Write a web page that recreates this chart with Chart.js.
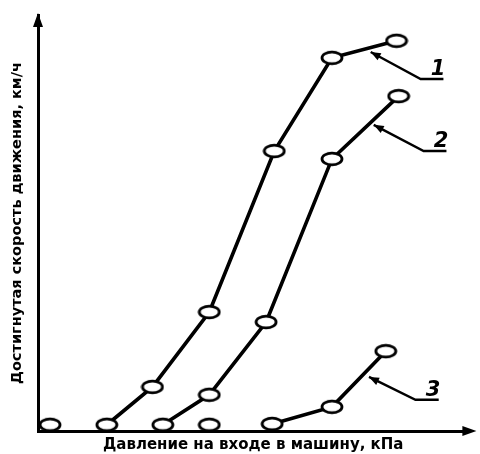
<!DOCTYPE html>
<html>
<head>
<meta charset="utf-8">
<script src="https://cdn.jsdelivr.net/npm/chart.js@4.4.1/dist/chart.umd.min.js"></script>
<style>
  html, body { margin: 0; padding: 0; background: #fff; }
  #wrap { width: 480px; height: 454px; }
</style>
</head>
<body>
<div id="wrap"><canvas id="lineChart"></canvas></div>
<script>
// Данные кривых (условные единицы, оси без делений)
var curve1 = [
    { x: 1.60, y: 0.15 }, { x: 2.66, y: 1.06 }, { x: 3.98, y: 2.86 },
    { x: 5.49, y: 6.73 }, { x: 6.83, y: 8.97 }, { x: 8.33, y: 9.38 }
];
var curve2 = [
    { x: 2.90, y: 0.15 }, { x: 3.98, y: 0.87 }, { x: 5.30, y: 2.62 },
    { x: 6.83, y: 6.54 }, { x: 8.38, y: 8.05 }
];
var curve3 = [
    { x: 5.44, y: 0.17 }, { x: 6.83, y: 0.58 }, { x: 8.08, y: 1.92 }
];
// отдельные точки без линии
var loosePoints = [ { x: 0.28, y: 0.15 }, { x: 3.98, y: 0.15 } ];

// Выноски: номер кривой, стрелка, излом, конец полки
var calloutLabels = ['1', '2', '3'];
var calloutHead = [ { x: 7.73, y: 9.11 }, { x: 7.80, y: 7.36 }, { x: 7.69, y: 1.30 } ];
var calloutBend = [ { x: 8.89, y: 8.46 }, { x: 8.96, y: 6.73 }, { x: 8.77, y: 0.75 } ];
var calloutEnd  = [ { x: 9.42, y: 8.46 }, { x: 9.49, y: 6.73 }, { x: 9.31, y: 0.75 } ];

var xTitle = 'Давление на входе в машину, кПа';
var yTitle = 'Достигнутая скорость движения, км/ч';

// Маркер - белый овал с чёрным контуром
function makeMarker() {
    var c = document.createElement('canvas');
    c.width = 24; c.height = 16;
    var g = c.getContext('2d');
    g.beginPath();
    g.ellipse(12, 8, 10, 5.8, 0, 0, Math.PI * 2);
    g.fillStyle = '#fff';
    g.fill();
    g.lineWidth = 2.8;
    g.strokeStyle = '#000';
    g.stroke();
    return c;
}
var marker = makeMarker();

function arrowHead(ctx, fx, fy, tx, ty, len, w) {
    var a = Math.atan2(ty - fy, tx - fx);
    ctx.beginPath();
    ctx.moveTo(tx, ty);
    ctx.lineTo(tx - len * Math.cos(a) + w * Math.sin(a), ty - len * Math.sin(a) - w * Math.cos(a));
    ctx.lineTo(tx - len * Math.cos(a) - w * Math.sin(a), ty - len * Math.sin(a) + w * Math.cos(a));
    ctx.closePath();
    ctx.fill();
}

// Плагин: стрелки осей и выноски с номерами
var extrasPlugin = {
    id: 'extras',
    afterDatasetsDraw: function (chart) {
        var ctx = chart.ctx;
        var xs = chart.scales.x, ys = chart.scales.y;
        var area = chart.chartArea;
        ctx.save();
        ctx.fillStyle = '#000';
        ctx.strokeStyle = '#000';
        // стрелки осей
        arrowHead(ctx, area.left, area.top + 20, area.left, area.top - 2, 14, 5);
        arrowHead(ctx, area.right - 20, area.bottom, area.right + 8, area.bottom, 14, 5);
        // выноски
        ctx.lineWidth = 2.4;
        for (var i = 0; i < calloutLabels.length; i++) {
            var hx = xs.getPixelForValue(calloutHead[i].x), hy = ys.getPixelForValue(calloutHead[i].y);
            var bx = xs.getPixelForValue(calloutBend[i].x), by = ys.getPixelForValue(calloutBend[i].y);
            var ex = xs.getPixelForValue(calloutEnd[i].x), ey = ys.getPixelForValue(calloutEnd[i].y);
            ctx.beginPath();
            ctx.moveTo(ex, ey);
            ctx.lineTo(bx, by);
            ctx.lineTo(hx, hy);
            ctx.stroke();
            arrowHead(ctx, bx, by, hx, hy, 10, 4);
            ctx.font = 'italic bold 21px "DejaVu Sans"';
            ctx.textAlign = 'center';
            ctx.textBaseline = 'alphabetic';
            ctx.fillText(calloutLabels[i], (bx + ex) / 2 + 6, by - 4);
        }
        ctx.restore();
    }
};

function lineSet(data) {
    return {
        data: data,
        borderColor: '#000',
        borderWidth: 3.6,
        pointStyle: marker,
        pointRadius: 8,
        showLine: true,
        tension: 0
    };
}

new Chart(document.getElementById('lineChart'), {
    type: 'scatter',
    data: {
        datasets: [
            lineSet(curve1),
            lineSet(curve2),
            lineSet(curve3),
            { data: loosePoints, pointStyle: marker, pointRadius: 8, showLine: false }
        ]
    },
    options: {
        responsive: true,
        maintainAspectRatio: false,
        animation: false,
        layout: { padding: { top: 15, right: 10, left: 0, bottom: 0 } },
        plugins: { legend: { display: false }, tooltip: { enabled: false } },
        scales: {
            x: {
                min: 0, max: 10,
                grid: { display: false },
                border: { display: true, color: '#000', width: 3 },
                ticks: { display: false },
                title: {
                    display: true, text: xTitle, color: '#000',
                    font: { family: 'DejaVu Sans', weight: 'bold', size: 15 },
                    padding: { top: 3, bottom: 0 }
                },
                afterFit: function (s) { s.height = 23; }
            },
            y: {
                min: 0, max: 10,
                grid: { display: false },
                border: { display: true, color: '#000', width: 3 },
                ticks: { display: false },
                title: {
                    display: true, text: yTitle, color: '#000',
                    font: { family: 'DejaVu Sans', weight: 'bold', size: 14.5 },
                    padding: { top: 9, bottom: 0 }
                },
                afterFit: function (s) { s.width = 38; }
            }
        }
    },
    plugins: [extrasPlugin]
});
</script>
</body>
</html>
